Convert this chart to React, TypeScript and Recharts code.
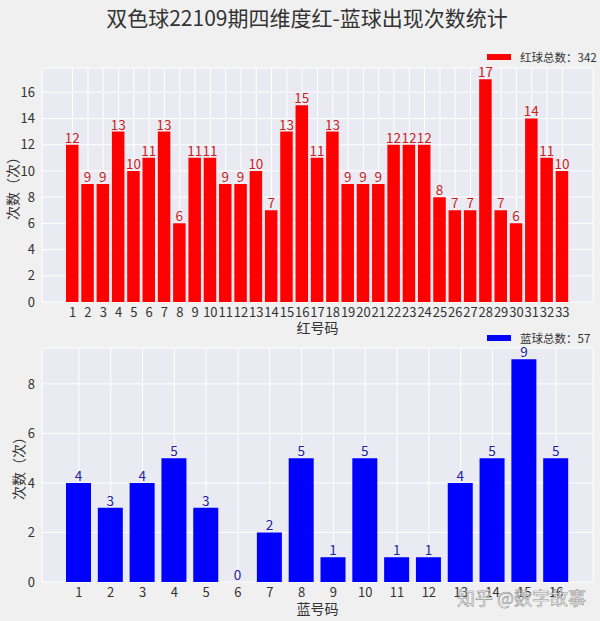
import React from 'react';
import { BarChart, Bar, XAxis, YAxis, CartesianGrid, LabelList, Legend } from 'recharts';

const chartTitle = '双色球22109期四维度红-蓝球出现次数统计';
const yLabel = '次数（次）';
const redAxisLabel = '红号码';
const blueAxisLabel = '蓝号码';
const redLegend = '红球总数：342';
const blueLegend = '蓝球总数：57';
const watermark = '知乎 @数字故事';

const redNumbers = ['1', '2', '3', '4', '5', '6', '7', '8', '9', '10', '11', '12', '13', '14', '15', '16', '17', '18', '19', '20', '21', '22', '23', '24', '25', '26', '27', '28', '29', '30', '31', '32', '33'];
const redCounts = [12, 9, 9, 13, 10, 11, 13, 6, 11, 11, 9, 9, 10, 7, 13, 15, 11, 13, 9, 9, 9, 12, 12, 12, 8, 7, 7, 17, 7, 6, 14, 11, 10];
const redTicks = [0, 2, 4, 6, 8, 10, 12, 14, 16];

const blueNumbers = ['1', '2', '3', '4', '5', '6', '7', '8', '9', '10', '11', '12', '13', '14', '15', '16'];
const blueCounts = [4, 3, 4, 5, 3, 0, 2, 5, 1, 5, 1, 1, 4, 5, 9, 5];
const blueTicks = [0, 2, 4, 6, 8];

const redData = redNumbers.map((n, i) => ({ num: n, count: redCounts[i] }));
const blueData = blueNumbers.map((n, i) => ({ num: n, count: blueCounts[i] }));

const FONT = "'Noto Sans CJK SC', 'Noto Sans', sans-serif";
const TEXT = '#333333';
const PLOT_BG = '#EAEAF2';

const legendContent = (color: string, text: string) => () => (
  <div style={{ display: 'flex', alignItems: 'center', fontSize: 11.5, color: TEXT, fontFamily: FONT, whiteSpace: 'nowrap' }}>
    <div style={{ width: 24, height: 6, background: color, marginRight: 9 }} />
    <span>{text}</span>
  </div>
);

const makeValueLabel = (color: string) => (props: any) => {
  const { x, y, width, value } = props;
  if (x == null || y == null) return null;
  return (
    <text x={Number(x) + Number(width) / 2} y={Number(y) - 2} textAnchor="middle" fill={color} fontSize={13.5}>
      {value}
    </text>
  );
};

const zeroMin = (value: any) => (value === 0 ? 0.001 : 0);

export default function App() {
  return (
    <div style={{ position: 'absolute', left: 0, top: 0, width: 600, height: 621, background: '#F0F0F0', fontFamily: FONT, overflow: 'hidden' }}>
      <div style={{ position: 'absolute', left: 0, width: 614, top: 3, textAlign: 'center', fontSize: 21, color: TEXT, lineHeight: '28px' }}>
        {chartTitle}
      </div>

      <div style={{ position: 'absolute', left: 0, top: 0 }}>
        <BarChart width={600} height={340} data={redData} margin={{ top: 68, right: 7, bottom: 0, left: 0 }}>
          <CartesianGrid stroke="#FFFFFF" strokeWidth={1} fill={PLOT_BG} />
          <XAxis
            dataKey="num"
            type="category"
            interval={0}
            height={38}
            padding={{ left: 23, right: 23 }}
            axisLine={false}
            tickLine={false}
            tickSize={0}
            tickMargin={6}
            tick={{ fontSize: 13, fill: TEXT }}
            label={{ value: redAxisLabel, position: 'insideBottom', offset: 7, fontSize: 14, fill: TEXT }}
          />
          <YAxis
            width={42}
            domain={[0, 17.85]}
            ticks={redTicks}
            axisLine={false}
            tickLine={false}
            tickSize={0}
            tickMargin={7}
            tick={{ fontSize: 13, fill: TEXT }}
            label={{ value: yLabel, angle: -90, position: 'center', dx: -8, fontSize: 14, fill: TEXT }}
          />
          <Legend
            layout="horizontal"
            verticalAlign="middle"
            align="center"
            content={legendContent('#FF0000', redLegend)}
            wrapperStyle={{ top: 49, left: 487, width: 'auto', height: 'auto' }}
          />
          <Bar dataKey="count" fill="#FF0000" barSize={12.5} isAnimationActive={false} name={redLegend}>
            <LabelList dataKey="count" content={makeValueLabel('#C81E1E')} />
          </Bar>
        </BarChart>
      </div>

      <div style={{ position: 'absolute', left: 0, top: 330 }}>
        <BarChart width={600} height={291} data={blueData} margin={{ top: 18, right: 7, bottom: 0, left: 0 }}>
          <CartesianGrid stroke="#FFFFFF" strokeWidth={1} fill={PLOT_BG} />
          <XAxis
            dataKey="num"
            type="category"
            interval={0}
            height={39}
            padding={{ left: 21, right: 21 }}
            axisLine={false}
            tickLine={false}
            tickSize={0}
            tickMargin={6}
            tick={{ fontSize: 13, fill: TEXT }}
            label={{ value: blueAxisLabel, position: 'insideBottom', offset: 7, fontSize: 14, fill: TEXT }}
          />
          <YAxis
            width={42}
            domain={[0, 9.45]}
            ticks={blueTicks}
            axisLine={false}
            tickLine={false}
            tickSize={0}
            tickMargin={7}
            tick={{ fontSize: 13, fill: TEXT }}
            label={{ value: yLabel, angle: -90, position: 'center', dx: -2, fontSize: 14, fill: TEXT }}
          />
          <Legend
            layout="horizontal"
            verticalAlign="middle"
            align="center"
            content={legendContent('#0000FF', blueLegend)}
            wrapperStyle={{ top: 0, left: 487, width: 'auto', height: 'auto' }}
          />
          <Bar dataKey="count" fill="#0000FF" barSize={25} minPointSize={zeroMin} isAnimationActive={false} name={blueLegend}>
            <LabelList dataKey="count" content={makeValueLabel('#2222A0')} />
          </Bar>
        </BarChart>
      </div>

      <div style={{ position: 'absolute', left: 457, top: 584, fontSize: 18, color: 'rgba(255,255,255,0.85)', WebkitTextStroke: '0.6px rgba(110,110,110,0.75)', whiteSpace: 'nowrap' }}>
        {watermark}
      </div>
    </div>
  );
}
